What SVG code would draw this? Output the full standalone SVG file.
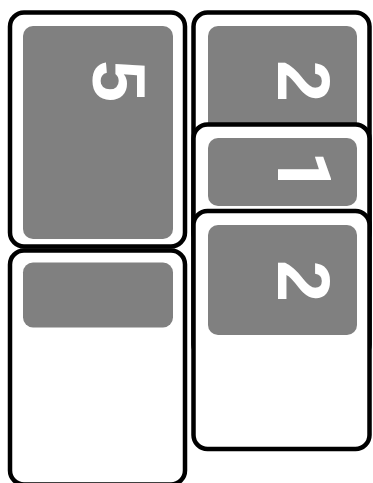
<svg xmlns="http://www.w3.org/2000/svg" width="373" height="483" viewBox="0 0 373 483">
<style>
.card{fill:#ffffff;stroke:#000000;stroke-width:4.5}
.panel{fill:#808080}
.num{font-family:'Liberation Sans',Arial,Helvetica,sans-serif;font-weight:700;font-size:75px;fill:#ffffff;text-anchor:middle}
.one{font-family:Roboto,'Liberation Sans',sans-serif}
</style>
<rect x="0" y="0" width="373" height="483" fill="#ffffff"/>
<g id="card-5">
<rect class="card" x="10" y="12.5" width="175" height="234" rx="14"/>
<rect class="panel" x="23" y="26" width="150" height="213" rx="10"/>
<text class="num" transform="translate(93,81) rotate(90)">5</text>
</g>
<g id="card-blank">
<rect class="card" x="10" y="250.5" width="175" height="234" rx="14"/>
<rect class="panel" x="23" y="262.5" width="150" height="65" rx="10"/>
</g>
<g id="card-2a">
<rect class="card" x="193.5" y="12.5" width="176" height="234" rx="14"/>
<rect class="panel" x="208" y="26" width="149" height="200" rx="10"/>
<text class="num" transform="translate(278,81) rotate(90)">2</text>
</g>
<g id="card-1">
<rect class="card" x="193.5" y="124.5" width="176" height="234" rx="14"/>
<rect class="panel" x="208" y="138" width="149" height="68" rx="10"/>
<text class="num one" transform="translate(278,172) rotate(90)">1</text>
</g>
<g id="card-2b">
<rect class="card" x="193.5" y="211" width="176" height="238" rx="14"/>
<rect class="panel" x="208" y="225" width="149" height="110" rx="10"/>
<text class="num" transform="translate(278,281) rotate(90)">2</text>
</g>
<g id="connectors"></g>
</svg>
